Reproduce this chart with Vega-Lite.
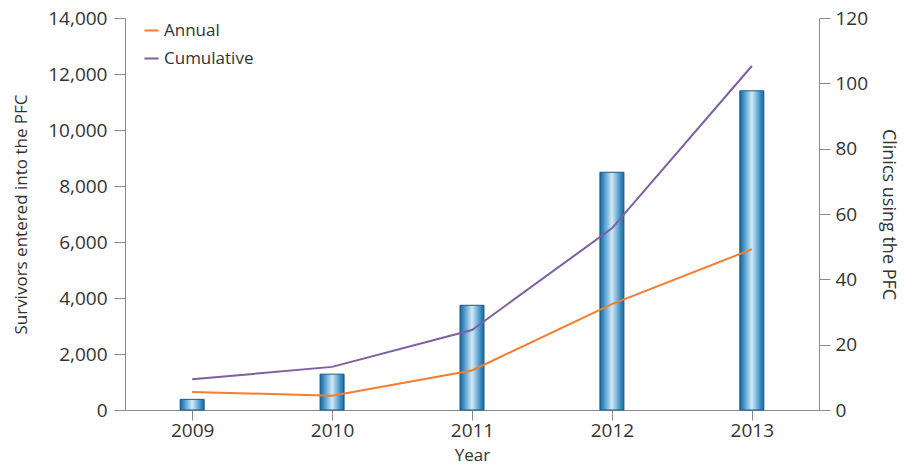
{
  "$schema": "https://vega.github.io/schema/vega-lite/v6.json",
  "autosize": "none",
  "width": 694,
  "height": 392,
  "padding": {"left": 125, "top": 18, "right": 86, "bottom": 58},
  "config": {
    "font": "Open Sans",
    "view": {"stroke": null},
    "axis": {
      "labelFont": "Open Sans",
      "titleFont": "Open Sans",
      "labelFontSize": 19,
      "titleFontSize": 17,
      "titleFontWeight": "normal",
      "labelColor": "#333333",
      "titleColor": "#333333",
      "domainColor": "#8a8a8a",
      "tickColor": "#8a8a8a",
      "tickSize": 11,
      "labelPadding": 5,
      "grid": false
    }
  },
  "datasets": {
    "bars": [
      {"year": "2009", "survivors": 380},
      {"year": "2010", "survivors": 1280},
      {"year": "2011", "survivors": 3740},
      {"year": "2012", "survivors": 8490},
      {"year": "2013", "survivors": 11400}
    ],
    "lines": [
      {"year": "2009", "series": "Annual", "clinics": 5.5},
      {"year": "2010", "series": "Annual", "clinics": 4.4},
      {"year": "2011", "series": "Annual", "clinics": 12.1},
      {"year": "2012", "series": "Annual", "clinics": 32.4},
      {"year": "2013", "series": "Annual", "clinics": 49.2},
      {"year": "2009", "series": "Cumulative", "clinics": 9.4},
      {"year": "2010", "series": "Cumulative", "clinics": 13.2},
      {"year": "2011", "series": "Cumulative", "clinics": 24.5},
      {"year": "2012", "series": "Cumulative", "clinics": 55.6},
      {"year": "2013", "series": "Cumulative", "clinics": 105.3}
    ]
  },
  "encoding": {
    "x": {
      "field": "year",
      "type": "ordinal",
      "scale": {"type": "point", "padding": 0.48},
      "axis": {"title": "Year", "labelAngle": 0, "tickSize": 10, "labelPadding": 1, "titlePadding": 7}
    }
  },
  "layer": [
    {
      "data": {"name": "bars"},
      "mark": {
        "type": "bar",
        "size": 24,
        "stroke": "#1a5a85",
        "strokeWidth": 1,
        "color": {
          "gradient": "linear",
          "x1": 0, "y1": 0, "x2": 1, "y2": 0,
          "stops": [
            {"offset": 0, "color": "#1b6394"},
            {"offset": 0.15, "color": "#3d91c6"},
            {"offset": 0.5, "color": "#d2e9f7"},
            {"offset": 0.85, "color": "#3b8fc4"},
            {"offset": 1, "color": "#1a6899"}
          ]
        }
      },
      "encoding": {
        "y": {
          "field": "survivors",
          "type": "quantitative",
          "scale": {"domain": [0, 14000]},
          "axis": {
            "orient": "left",
            "title": "Survivors entered into the PFC",
            "values": [0, 2000, 4000, 6000, 8000, 10000, 12000, 14000],
            "format": ",d",
            "labelPadding": 7,
            "titlePadding": 17
          }
        }
      }
    },
    {
      "data": {"name": "lines"},
      "mark": {"type": "line", "strokeWidth": 2},
      "encoding": {
        "y": {
          "field": "clinics",
          "type": "quantitative",
          "scale": {"domain": [0, 120]},
          "axis": {
            "orient": "right",
            "title": "Clinics using the PFC",
            "titleFontSize": 18,
            "values": [0, 20, 40, 60, 80, 100, 120],
            "titlePadding": 11
          }
        },
        "color": {
          "field": "series",
          "type": "nominal",
          "scale": {"domain": ["Annual", "Cumulative"], "range": ["#f47d2f", "#7e5fa0"]},
          "legend": {
            "title": null,
            "orient": "none",
            "legendX": 18,
            "legendY": 4,
            "symbolType": "stroke",
            "symbolSize": 200,
            "symbolStrokeWidth": 2,
            "labelFontSize": 17,
            "labelColor": "#333333",
            "labelFont": "Open Sans",
            "rowPadding": 10,
            "labelOffset": 4
          }
        }
      }
    }
  ],
  "resolve": {"scale": {"y": "independent"}}
}
